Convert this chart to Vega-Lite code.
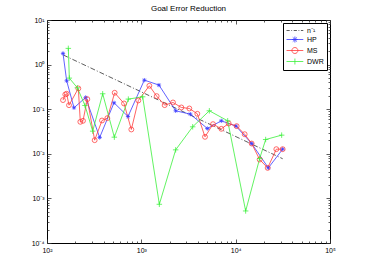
{
  "$schema": "https://vega.github.io/schema/vega-lite/v6.json",
  "width": 283,
  "height": 223,
  "autosize": "none",
  "padding": {"left": 47, "top": 20, "right": 35, "bottom": 30},
  "background": "white",
  "title": {"text": "Goal Error Reduction", "fontSize": 8, "fontWeight": "normal", "font": "Liberation Sans", "color": "black", "offset": 3},
  "config": {
    "view": {"stroke": "black", "strokeWidth": 1},
    "axis": {"domain": false, "grid": false, "labelFont": "Liberation Sans", "labelFontSize": 7, "labelColor": "black", "tickColor": "#333333", "tickWidth": 0.8, "title": null}
  },
  "datasets": {
    "ref": [
      {"x": 149, "y": 1.64, "series": "n⁻¹"},
      {"x": 31500, "y": 0.00775, "series": "n⁻¹"}
    ],
    "err": [
      {"x": 147.8, "y": 1.785, "series": "HP"},
      {"x": 161.6, "y": 0.434, "series": "HP"},
      {"x": 193.3, "y": 0.1075, "series": "HP"},
      {"x": 257, "y": 0.1835, "series": "HP"},
      {"x": 361.6, "y": 0.0232, "series": "HP"},
      {"x": 513.2, "y": 0.1392, "series": "HP"},
      {"x": 722.2, "y": 0.0687, "series": "HP"},
      {"x": 1076, "y": 0.449, "series": "HP"},
      {"x": 1539, "y": 0.347, "series": "HP"},
      {"x": 2312, "y": 0.0921, "series": "HP"},
      {"x": 3307, "y": 0.0775, "series": "HP"},
      {"x": 5008, "y": 0.0369, "series": "HP"},
      {"x": 7049, "y": 0.0549, "series": "HP"},
      {"x": 10081, "y": 0.0417, "series": "HP"},
      {"x": 14776, "y": 0.017, "series": "HP"},
      {"x": 22197, "y": 0.00483, "series": "HP"},
      {"x": 31495, "y": 0.0127, "series": "HP"},
      {"x": 147.8, "y": 0.16, "series": "MS"},
      {"x": 156.4, "y": 0.214, "series": "MS"},
      {"x": 161.6, "y": 0.222, "series": "MS"},
      {"x": 171.1, "y": 0.123, "series": "MS"},
      {"x": 214.8, "y": 0.292, "series": "MS"},
      {"x": 225.6, "y": 0.0521, "series": "MS"},
      {"x": 240.7, "y": 0.0549, "series": "MS"},
      {"x": 267.6, "y": 0.168, "series": "MS"},
      {"x": 320.1, "y": 0.0202, "series": "MS"},
      {"x": 382.9, "y": 0.0558, "series": "MS"},
      {"x": 436.2, "y": 0.063, "series": "MS"},
      {"x": 521.6, "y": 0.2335, "series": "MS"},
      {"x": 655.1, "y": 0.1345, "series": "MS"},
      {"x": 783.4, "y": 0.0351, "series": "MS"},
      {"x": 929.4, "y": 0.157, "series": "MS"},
      {"x": 1216, "y": 0.335, "series": "MS"},
      {"x": 1454, "y": 0.1965, "series": "MS"},
      {"x": 1767, "y": 0.1234, "series": "MS"},
      {"x": 2166, "y": 0.1416, "series": "MS"},
      {"x": 2655, "y": 0.1094, "series": "MS"},
      {"x": 3228, "y": 0.1038, "series": "MS"},
      {"x": 3923, "y": 0.0788, "series": "MS"},
      {"x": 4731, "y": 0.024, "series": "MS"},
      {"x": 5751, "y": 0.0462, "series": "MS"},
      {"x": 7049, "y": 0.0363, "series": "MS"},
      {"x": 8433, "y": 0.0478, "series": "MS"},
      {"x": 10247, "y": 0.0417, "series": "MS"},
      {"x": 12458, "y": 0.0275, "series": "MS"},
      {"x": 14776, "y": 0.017, "series": "MS"},
      {"x": 17965, "y": 0.00743, "series": "MS"},
      {"x": 21838, "y": 0.00483, "series": "MS"},
      {"x": 26987, "y": 0.0127, "series": "MS"},
      {"x": 31495, "y": 0.0127, "series": "MS"},
      {"x": 168.3, "y": 2.31, "series": "DWR"},
      {"x": 172.5, "y": 0.498, "series": "DWR"},
      {"x": 209.7, "y": 0.302, "series": "DWR"},
      {"x": 252.8, "y": 0.1213, "series": "DWR"},
      {"x": 304.9, "y": 0.0322, "series": "DWR"},
      {"x": 389.2, "y": 0.2217, "series": "DWR"},
      {"x": 517.4, "y": 0.0236, "series": "DWR"},
      {"x": 728.1, "y": 0.1683, "series": "DWR"},
      {"x": 1033, "y": 0.1898, "series": "DWR"},
      {"x": 1552, "y": 0.000738, "series": "DWR"},
      {"x": 2312, "y": 0.01226, "series": "DWR"},
      {"x": 3501, "y": 0.0403, "series": "DWR"},
      {"x": 5258, "y": 0.0921, "series": "DWR"},
      {"x": 8229, "y": 0.0549, "series": "DWR"},
      {"x": 12766, "y": 0.000523, "series": "DWR"},
      {"x": 17965, "y": 0.00783, "series": "DWR"},
      {"x": 20797, "y": 0.0209, "series": "DWR"},
      {"x": 30735, "y": 0.0262, "series": "DWR"}
    ]
  },
  "layer": [
    {
      "data": {"name": "ref"},
      "mark": {"type": "line", "strokeDash": [5, 2, 1, 2], "strokeWidth": 0.8},
      "encoding": {
        "x": {"field": "x", "type": "quantitative",
          "scale": {"type": "log", "domain": [100, 100000], "nice": false},
          "axis": {"orient": "bottom",
            "values": [100,200,300,400,500,600,700,800,900,1000,2000,3000,4000,5000,6000,7000,8000,9000,10000,20000,30000,40000,50000,60000,70000,80000,90000,100000],
            "labelExpr": "datum.value == 100 ? '10²' : datum.value == 1000 ? '10³' : datum.value == 10000 ? '10⁴' : datum.value == 100000 ? '10⁵' : ''",
            "tickSize": {"condition": {"test": "indexof([100,1000,10000,100000], datum.value) >= 0", "value": -4}, "value": -2},
            "labelPadding": 7, "labelFlush": false, "labelOverlap": false}},
        "y": {"field": "y", "type": "quantitative",
          "scale": {"type": "log", "domain": [0.0001, 10], "nice": false},
          "axis": {"orient": "left",
            "values": [0.0001,0.0002,0.0003,0.0004,0.0005,0.0006,0.0007,0.0008,0.0009,0.001,0.002,0.003,0.004,0.005,0.006,0.007,0.008,0.009,0.01,0.02,0.03,0.04,0.05,0.06,0.07,0.08,0.09,0.1,0.2,0.3,0.4,0.5,0.6,0.7,0.8,0.9,1,2,3,4,5,6,7,8,9,10],
            "labelExpr": "datum.value == 10 ? '10¹' : datum.value == 1 ? '10⁰' : datum.value == 0.1 ? '10⁻¹' : datum.value == 0.01 ? '10⁻²' : datum.value == 0.001 ? '10⁻³' : datum.value == 0.0001 ? '10⁻⁴' : ''",
            "tickSize": {"condition": {"test": "indexof([0.0001,0.001,0.01,0.1,1,10], datum.value) >= 0", "value": -4}, "value": -2},
            "labelPadding": 7, "labelFlush": false, "labelOverlap": false}},
        "color": {"field": "series", "type": "nominal",
          "scale": {"domain": ["n⁻¹", "HP", "MS", "DWR"], "range": ["#333333", "#3a3aff", "#ff3a3a", "#3af03a"]},
          "legend": {"title": null, "orient": "top-right", "offset": 3, "padding": 3,
            "strokeColor": "black", "fillColor": "white", "labelFont": "Liberation Sans", "labelFontSize": 7, "labelColor": "black",
            "symbolSize": 64, "labelOffset": 12, "rowPadding": 0, "symbolStrokeWidth": 0.8,
            "encode": {"symbols": {"update": {
              "shape": {"signal": "datum.value === 'HP' ? 'M-1,0H3.2M1.1,-0.75V0.75M0.35,0H1.85M0.57,-0.53L1.63,0.53M0.57,0.53L1.63,-0.53' : datum.value === 'MS' ? 'M-1,0H3.2M1.85,0A0.75,0.75 0 1,1 0.35,0A0.75,0.75 0 1,1 1.85,0' : datum.value === 'DWR' ? 'M-1,0H3.2M1.1,-0.75V0.75' : 'M-1,0H-0.2M0.2,0H0.4M0.8,0H1.6M2,0H2.2M2.6,0H3.2'"},
              "fill": {"value": "transparent"}}}}}}
      }
    },
    {
      "data": {"name": "err"},
      "mark": {"type": "line", "strokeWidth": 0.8},
      "encoding": {
        "x": {"field": "x", "type": "quantitative", "axis": null},
        "y": {"field": "y", "type": "quantitative", "axis": null},
        "color": {"field": "series", "type": "nominal"}
      }
    },
    {
      "data": {"name": "err"},
      "mark": {"type": "point", "filled": false, "strokeWidth": 0.75, "opacity": 1},
      "encoding": {
        "x": {"field": "x", "type": "quantitative",
          "axis": {"orient": "top", "labels": false,
            "values": [100,200,300,400,500,600,700,800,900,1000,2000,3000,4000,5000,6000,7000,8000,9000,10000,20000,30000,40000,50000,60000,70000,80000,90000,100000],
            "tickSize": {"condition": {"test": "indexof([100,1000,10000,100000], datum.value) >= 0", "value": -4}, "value": -2}}},
        "y": {"field": "y", "type": "quantitative",
          "axis": {"orient": "right", "labels": false,
            "values": [0.0001,0.0002,0.0003,0.0004,0.0005,0.0006,0.0007,0.0008,0.0009,0.001,0.002,0.003,0.004,0.005,0.006,0.007,0.008,0.009,0.01,0.02,0.03,0.04,0.05,0.06,0.07,0.08,0.09,0.1,0.2,0.3,0.4,0.5,0.6,0.7,0.8,0.9,1,2,3,4,5,6,7,8,9,10],
            "tickSize": {"condition": {"test": "indexof([0.0001,0.001,0.01,0.1,1,10], datum.value) >= 0", "value": -4}, "value": -2}}},
        "color": {"field": "series", "type": "nominal"},
        "shape": {"field": "series", "type": "nominal",
          "scale": {"domain": ["HP", "MS", "DWR"], "range": ["M-1,0H1M0,-1V1M-0.7,-0.7L0.7,0.7M-0.7,0.7L0.7,-0.7", "circle", "M-1,0H1M0,-1V1"]},
          "legend": null},
        "size": {"field": "series", "type": "nominal",
          "scale": {"domain": ["HP", "MS", "DWR"], "range": [18, 30, 26]},
          "legend": null}
      }
    }
  ],
  "resolve": {"axis": {"x": "independent", "y": "independent"}}
}
